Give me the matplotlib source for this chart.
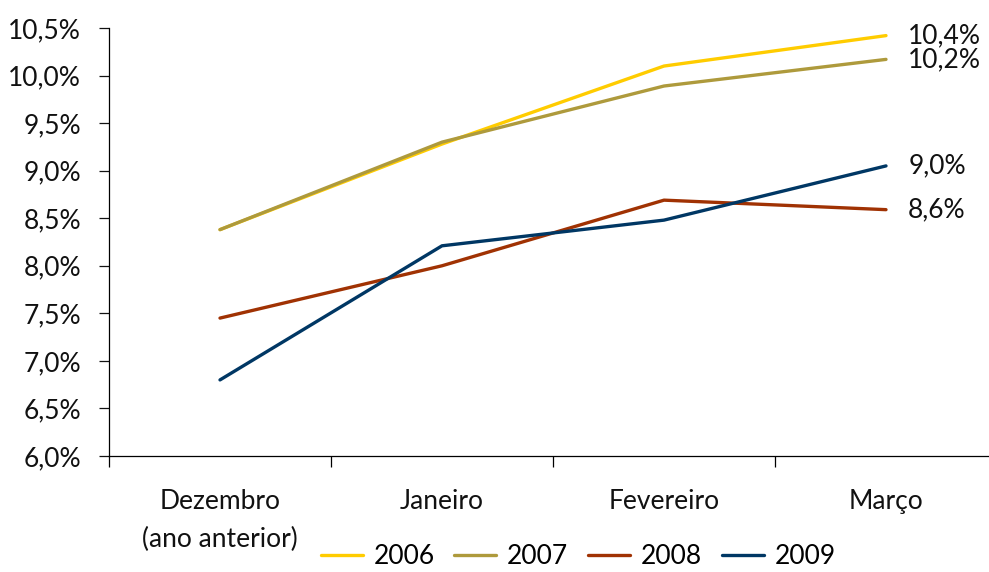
import matplotlib.pyplot as plt
from matplotlib.ticker import FuncFormatter, FixedLocator

# taxa acumulada por mês, em %
meses = ["Dezembro\n(ano anterior)", "Janeiro", "Fevereiro", "Março"]
anos = ["2006", "2007", "2008", "2009"]
v2006 = [8.38, 9.28, 10.10, 10.42]
v2007 = [8.38, 9.30, 9.89, 10.17]
v2008 = [7.45, 8.00, 8.69, 8.59]
v2009 = [6.80, 8.21, 8.48, 9.05]
rotulos_fim = ["10,4%", "10,2%", "8,6%", "9,0%"]
cores = ["#FFCC00", "#AE9A3C", "#A03203", "#003764"]

plt.rcParams['font.family'] = ['Lato', 'DejaVu Sans']

W, H = 989, 572
fig = plt.figure(figsize=(W / 100, H / 100), dpi=100)
ax = fig.add_axes([109 / W, (H - 456) / H, (997 - 109) / W, (456 - 28) / H])

x = list(range(len(meses)))
series = [v2006, v2007, v2008, v2009]
for ano, vals, cor, rot in zip(anos, series, cores, rotulos_fim):
    ax.plot(x, vals, color=cor, lw=2.4, label=ano, solid_capstyle='round', clip_on=False)
    ax.annotate(rot, (x[-1], vals[-1]), xytext=(16, 0), textcoords='offset points',
                va='center', ha='left', fontsize=19, color='#111111')

ax.set_xlim(-0.5, 3.5)
ax.set_ylim(6.0, 10.5)
ax.set_yticks([6.0 + 0.5 * i for i in range(10)])
ax.yaxis.set_major_formatter(FuncFormatter(lambda v, p: f"{v:.1f}%".replace('.', ',')))

ax.set_xticks(x)
ax.set_xticklabels(meses, linespacing=1.65)
ax.xaxis.set_minor_locator(FixedLocator([-0.5, 0.5, 1.5, 2.5, 3.5]))
ax.tick_params(axis='x', which='major', length=0, pad=24, labelsize=19, colors='#111111')
ax.tick_params(axis='x', which='minor', length=8, width=0.9, direction='out')
ax.tick_params(axis='y', length=7, width=0.9, pad=13, labelsize=19, colors='#111111')
for lbl in ax.get_xticklabels():
    lbl.set_verticalalignment('top')

for s in ['top', 'right']:
    ax.spines[s].set_visible(False)
for s in ['left', 'bottom']:
    ax.spines[s].set_linewidth(0.9)

fig.legend(loc='center', bbox_to_anchor=(578 / W, (H - 557) / H), ncol=4, frameon=False,
           fontsize=19, handlelength=1.6, handletextpad=0.4, columnspacing=0.75)

fig.savefig("out.png", dpi=100)
